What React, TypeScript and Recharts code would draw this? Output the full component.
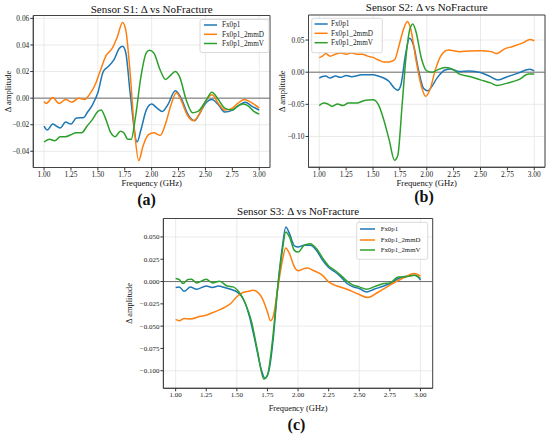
import {
  CartesianGrid,
  Line,
  LineChart,
  ReferenceArea,
  ReferenceLine,
  XAxis,
  YAxis,
} from "recharts";

type Pt = [number, number];

const FREQ_TICKS = [1, 1.25, 1.5, 1.75, 2, 2.25, 2.5, 2.75, 3];
const SERIES_NAMES = ["Fx0p1", "Fx0p1_2mmD", "Fx0p1_2mmV"];
const SERIES_COLORS = ["#1f77b4", "#ff7f0e", "#2ca02c"];

// Sensor S1
const S1_FX0P1: Pt[] = [
  [1.0, -0.021], [1.03, -0.024], [1.08, -0.0195], [1.15, -0.0225], [1.2, -0.018],
  [1.25, -0.0195], [1.3, -0.015], [1.37, -0.0145], [1.4, -0.011], [1.45, -0.005],
  [1.5, 0.004], [1.55, 0.02], [1.6, 0.024], [1.65, 0.029], [1.7, 0.0375],
  [1.73, 0.039], [1.76, 0.034], [1.8, 0.004], [1.865, -0.033], [1.9, -0.024],
  [1.95, -0.009], [2.0, -0.0045], [2.05, -0.0075], [2.1, -0.01], [2.15, -0.005],
  [2.22, 0.0055], [2.28, -0.001], [2.33, -0.011], [2.4, -0.017], [2.45, -0.011],
  [2.5, -0.004], [2.56, -0.001], [2.62, -0.005], [2.68, -0.0105], [2.75, -0.009],
  [2.8, -0.006], [2.87, -0.003], [2.93, -0.006], [3.0, -0.009],
];
const S1_2MMD: Pt[] = [
  [1.0, -0.0025], [1.02, -0.004], [1.08, 0.0005], [1.14, -0.004], [1.2, -0.001],
  [1.26, -0.003], [1.32, 0.0], [1.38, -0.001], [1.42, 0.0025], [1.48, 0.011],
  [1.52, 0.02], [1.58, 0.0325], [1.63, 0.037], [1.68, 0.046], [1.73, 0.057],
  [1.76, 0.051], [1.8, 0.019], [1.84, -0.024], [1.88, -0.047], [1.92, -0.036],
  [1.97, -0.0275], [2.02, -0.026], [2.08, -0.028], [2.13, -0.019], [2.18, -0.005],
  [2.23, 0.004], [2.27, -0.001], [2.33, -0.0125], [2.39, -0.017], [2.45, -0.011],
  [2.5, -0.0025], [2.56, 0.0025], [2.62, -0.004], [2.68, -0.009], [2.75, -0.0075],
  [2.8, -0.004], [2.86, -0.001], [2.92, -0.003], [3.0, -0.0075],
];
const S1_2MMV: Pt[] = [
  [1.0, -0.033], [1.05, -0.031], [1.1, -0.032], [1.15, -0.029], [1.2, -0.029],
  [1.25, -0.0275], [1.3, -0.026], [1.35, -0.026], [1.4, -0.021], [1.45, -0.016],
  [1.5, -0.01], [1.53, -0.009], [1.57, -0.015], [1.62, -0.026], [1.66, -0.029],
  [1.71, -0.025], [1.74, -0.026], [1.78, -0.031], [1.81, -0.031], [1.85, -0.014],
  [1.9, 0.016], [1.95, 0.034], [1.98, 0.036], [2.02, 0.034], [2.08, 0.021],
  [2.13, 0.014], [2.18, 0.0175], [2.22, 0.02], [2.26, 0.016], [2.32, -0.001],
  [2.38, -0.011], [2.43, -0.01], [2.5, -0.0025], [2.56, 0.0045], [2.62, -0.001],
  [2.68, -0.0075], [2.75, -0.009], [2.8, -0.006], [2.85, -0.0045], [2.9, -0.006],
  [2.95, -0.01], [3.0, -0.012],
];

// Sensor S2
const S2_FX0P1: Pt[] = [
  [1.0, -0.0093], [1.03, -0.0067], [1.06, -0.006], [1.1, -0.009], [1.15, -0.006],
  [1.2, -0.008], [1.25, -0.005], [1.3, -0.007], [1.4, -0.004], [1.5, -0.004],
  [1.55, -0.006], [1.6, -0.009], [1.65, -0.0145], [1.7, -0.025], [1.73, -0.028],
  [1.76, -0.0195], [1.8, 0.025], [1.84, 0.053], [1.88, 0.04], [1.92, 0.006],
  [1.97, -0.025], [2.01, -0.029], [2.04, -0.024], [2.1, -0.008], [2.17, 0.0035],
  [2.22, 0.005], [2.3, 0.001], [2.4, 0.002], [2.5, -0.0005], [2.58, -0.006],
  [2.66, -0.012], [2.75, -0.007], [2.85, -0.0015], [2.96, 0.0046], [3.0, 0.002],
];
const S2_2MMD: Pt[] = [
  [1.0, 0.0227], [1.03, 0.025], [1.06, 0.029], [1.1, 0.025], [1.15, 0.028],
  [1.2, 0.03], [1.25, 0.028], [1.3, 0.03], [1.35, 0.028], [1.4, 0.028],
  [1.45, 0.025], [1.5, 0.023], [1.55, 0.019], [1.6, 0.016], [1.65, 0.016],
  [1.7, 0.019], [1.74, 0.04], [1.78, 0.065], [1.82, 0.079], [1.85, 0.068],
  [1.9, 0.019], [1.95, -0.022], [1.99, -0.0376], [2.03, -0.027], [2.08, 0.0036],
  [2.13, 0.025], [2.2, 0.0345], [2.3, 0.032], [2.4, 0.033], [2.5, 0.0335],
  [2.6, 0.032], [2.65, 0.029], [2.72, 0.036], [2.8, 0.04], [2.9, 0.046],
  [2.96, 0.051], [3.0, 0.049],
];
const S2_2MMV: Pt[] = [
  [1.0, -0.052], [1.04, -0.048], [1.08, -0.0495], [1.12, -0.053], [1.17, -0.0495],
  [1.22, -0.052], [1.27, -0.048], [1.35, -0.048], [1.42, -0.044], [1.5, -0.043],
  [1.55, -0.0505], [1.6, -0.074], [1.65, -0.105], [1.7, -0.137], [1.73, -0.13],
  [1.77, -0.053], [1.81, 0.029], [1.84, 0.065], [1.87, 0.075], [1.9, 0.063],
  [1.95, 0.0217], [2.0, 0.002], [2.05, 0.0], [2.1, 0.0036], [2.17, 0.0072],
  [2.25, 0.0036], [2.3, -0.0026], [2.4, -0.0067], [2.5, -0.012], [2.6, -0.017],
  [2.65, -0.0206], [2.75, -0.017], [2.85, -0.012], [2.95, -0.003], [3.0, -0.003],
];

// Sensor S3
const S3_FX0P1: Pt[] = [
  [1.0, -0.0067], [1.03, -0.006], [1.07, -0.011], [1.12, -0.006], [1.17, -0.0086],
  [1.25, -0.005], [1.3, -0.0067], [1.35, -0.005], [1.4, -0.0067], [1.45, -0.0086],
  [1.5, -0.0116], [1.55, -0.019], [1.6, -0.0377], [1.65, -0.0675], [1.7, -0.099],
  [1.73, -0.1086], [1.76, -0.101], [1.8, -0.06], [1.83, -0.0116], [1.87, 0.037],
  [1.9, 0.0612], [1.93, 0.0537], [1.97, 0.04], [2.0, 0.0388], [2.05, 0.0407],
  [2.1, 0.0407], [2.15, 0.035], [2.2, 0.024], [2.25, 0.0157], [2.3, 0.011],
  [2.35, 0.0052], [2.4, -0.0022], [2.45, -0.006], [2.5, -0.0078], [2.56, -0.0116],
  [2.62, -0.0086], [2.7, -0.005], [2.75, -0.0022], [2.82, 0.0034], [2.88, 0.006],
  [2.95, 0.007], [2.98, 0.0052], [3.0, 0.0015],
];
const S3_2MMD: Pt[] = [
  [1.0, -0.0425], [1.03, -0.044], [1.07, -0.0414], [1.12, -0.042], [1.2, -0.039],
  [1.25, -0.0377], [1.3, -0.035], [1.37, -0.031], [1.45, -0.0246], [1.5, -0.017],
  [1.55, -0.0123], [1.6, -0.0108], [1.63, -0.0097], [1.7, -0.017], [1.75, -0.034],
  [1.775, -0.044], [1.8, -0.0377], [1.83, -0.0116], [1.87, 0.022], [1.9, 0.0377],
  [1.93, 0.0313], [1.97, 0.0164], [2.0, 0.012], [2.05, 0.0146], [2.08, 0.0153],
  [2.12, 0.0127], [2.2, 0.007], [2.25, -0.0004], [2.3, -0.004], [2.4, -0.0086],
  [2.5, -0.0146], [2.57, -0.018], [2.65, -0.0123], [2.75, -0.004], [2.85, 0.0034],
  [2.95, 0.009], [3.0, 0.006],
];
const S3_2MMV: Pt[] = [
  [1.0, 0.0034], [1.03, 0.0022], [1.06, -0.0022], [1.1, 0.0022], [1.13, 0.0026],
  [1.17, -0.0015], [1.25, 0.0026], [1.3, -0.0015], [1.36, 0.0004], [1.42, -0.005],
  [1.47, -0.006], [1.52, -0.0123], [1.57, -0.0246], [1.62, -0.045], [1.67, -0.0787],
  [1.72, -0.1093], [1.75, -0.105], [1.79, -0.0675], [1.83, -0.0116], [1.87, 0.033],
  [1.9, 0.0556], [1.93, 0.05], [1.97, 0.035], [2.0, 0.033], [2.05, 0.0407],
  [2.1, 0.0425], [2.15, 0.037], [2.2, 0.0265], [2.25, 0.0175], [2.3, 0.0127],
  [2.35, 0.007], [2.4, 0.0004], [2.45, -0.004], [2.5, -0.006], [2.56, -0.0086],
  [2.62, -0.006], [2.7, -0.0022], [2.75, -0.0015], [2.82, 0.0052], [2.88, 0.0052],
  [2.95, 0.007], [3.0, 0.0034],
];

const S1_TICKS = [-0.04, -0.02, 0, 0.02, 0.04, 0.06];
const S2_TICKS = [-0.1, -0.05, 0, 0.05];
const S3_TICKS = [-0.1, -0.075, -0.05, -0.025, 0, 0.025, 0.05];

const FONT = "'Liberation Serif', 'DejaVu Serif', serif";
const X_DOMAIN: [number, number] = [0.9, 3.1];

const fmt = (v: number, d: number) => {
  const s = Math.abs(v).toFixed(d);
  return v < -1e-9 ? "\u2212" + s : s;
};

interface Frame {
  left: number;
  top: number;
  right: number;
  bottom: number;
}

interface PanelProps {
  x: number;
  y: number;
  w: number;
  h: number;
  frame: Frame;
  series: Pt[][];
  yDomain: [number, number];
  yTicks: number[];
  decimals: number;
  fontSize: number;
}

function Panel({ x, y, w, h, frame, series, yDomain, yTicks, decimals, fontSize }: PanelProps) {
  const tick = { fontSize, fill: "#222", fontFamily: FONT };
  return (
    <div style={{ position: "absolute", left: x, top: y }}>
      <LineChart
        width={w}
        height={h}
        margin={{ top: frame.top - y, right: x + w - frame.right, left: 0, bottom: 0 }}
      >
        <CartesianGrid stroke="#e4e4e4" strokeWidth={0.8} />
        <XAxis
          type="number"
          dataKey="f"
          domain={X_DOMAIN}
          ticks={FREQ_TICKS}
          allowDataOverflow
          height={y + h - frame.bottom}
          tickFormatter={(v: number) => v.toFixed(2)}
          tick={tick}
          tickSize={3}
          tickMargin={1}
          tickLine={{ stroke: "#333" }}
          axisLine={{ stroke: "#444" }}
        />
        <YAxis
          type="number"
          domain={yDomain}
          ticks={yTicks}
          allowDataOverflow
          width={frame.left - x}
          tickFormatter={(v: number) => fmt(v, decimals)}
          tick={tick}
          tickSize={3}
          tickMargin={1}
          tickLine={{ stroke: "#333" }}
          axisLine={{ stroke: "#444" }}
        />
        <ReferenceLine y={0} stroke="#6e6e6e" strokeWidth={1} />
        {series.map((pts, i) => (
          <Line
            key={SERIES_NAMES[i]}
            data={pts.map(([f, v]) => ({ f, v }))}
            dataKey="v"
            type="monotone"
            stroke={SERIES_COLORS[i]}
            strokeWidth={1.5}
            dot={false}
            isAnimationActive={false}
          />
        ))}
        <ReferenceArea
          x1={X_DOMAIN[0]}
          x2={X_DOMAIN[1]}
          y1={yDomain[0]}
          y2={yDomain[1]}
          fill="none"
          fillOpacity={0}
          stroke="#444"
          strokeWidth={1}
        />
      </LineChart>
    </div>
  );
}

interface LegendProps {
  x: number;
  y: number;
  w: number;
  h: number;
  rows: number[];
  lineX: [number, number];
  textX: number;
  fontSize: number;
}

function LegendBox({ x, y, w, h, rows, lineX, textX, fontSize }: LegendProps) {
  return (
    <g>
      <rect x={x} y={y} width={w} height={h} rx={2} fill="#fff" fillOpacity={0.85} stroke="#cfcfcf" strokeWidth={0.8} />
      {SERIES_NAMES.map((name, i) => (
        <g key={name}>
          <line x1={lineX[0]} x2={lineX[1]} y1={rows[i]} y2={rows[i]} stroke={SERIES_COLORS[i]} strokeWidth={1.5} />
          <text x={textX} y={rows[i] + fontSize * 0.33} fontSize={fontSize} fontFamily={FONT} fill="#222">
            {name}
          </text>
        </g>
      ))}
    </g>
  );
}

const FRAME_A: Frame = { left: 33.3, top: 15.5, right: 270, bottom: 167.5 };
const FRAME_B: Frame = { left: 308.5, top: 15, right: 545, bottom: 167.3 };
const FRAME_C: Frame = { left: 163.4, top: 218.5, right: 432.7, bottom: 388.3 };

export default function App() {
  const cx = (f: Frame) => (f.left + f.right) / 2;
  const cy = (f: Frame) => (f.top + f.bottom) / 2;
  return (
    <div style={{ position: "absolute", left: 0, top: 0, width: 550, height: 436, background: "#fff", overflow: "hidden" }}>
      <Panel
        x={0} y={0} w={273} h={184}
        frame={FRAME_A}
        series={[S1_FX0P1, S1_2MMD, S1_2MMV]}
        yDomain={[-0.0522, 0.0622]}
        yTicks={S1_TICKS}
        decimals={2}
        fontSize={7.4}
      />
      <Panel
        x={275} y={0} w={273} h={184}
        frame={FRAME_B}
        series={[S2_FX0P1, S2_2MMD, S2_2MMV]}
        yDomain={[-0.148, 0.089]}
        yTicks={S2_TICKS}
        decimals={2}
        fontSize={7.4}
      />
      <Panel
        x={128} y={205} w={308} h={406 - 205}
        frame={FRAME_C}
        series={[S3_FX0P1, S3_2MMD, S3_2MMV]}
        yDomain={[-0.1197, 0.0707]}
        yTicks={S3_TICKS}
        decimals={3}
        fontSize={7}
      />
      <svg width={550} height={436} style={{ position: "absolute", left: 0, top: 0, pointerEvents: "none" }}>
        <g fontFamily={FONT} fill="#111" textAnchor="middle">
          <text x={cx(FRAME_A)} y={12.5} fontSize={11}>Sensor S1: Δ vs NoFracture</text>
          <text x={cx(FRAME_B)} y={11} fontSize={11}>Sensor S2: Δ vs NoFracture</text>
          <text x={cx(FRAME_C)} y={215} fontSize={11}>Sensor S3: Δ vs NoFracture</text>

          <text x={cx(FRAME_A)} y={185.5} fontSize={8.6}>Frequency (GHz)</text>
          <text x={cx(FRAME_B)} y={185.5} fontSize={8.6}>Frequency (GHz)</text>
          <text x={cx(FRAME_C)} y={410.5} fontSize={8.4}>Frequency (GHz)</text>

          <text x={10.5} y={cy(FRAME_A)} fontSize={8.6} transform={`rotate(-90, 10.5, ${cy(FRAME_A)})`}>Δ amplitude</text>
          <text x={285.5} y={cy(FRAME_B)} fontSize={8.6} transform={`rotate(-90, 285.5, ${cy(FRAME_B)})`}>Δ amplitude</text>
          <text x={132.5} y={cy(FRAME_C)} fontSize={8.4} transform={`rotate(-90, 132.5, ${cy(FRAME_C)})`}>Δ amplitude</text>

          <text x={146.5} y={205} fontSize={16} fontWeight="bold">(a)</text>
          <text x={424} y={202} fontSize={16} fontWeight="bold">(b)</text>
          <text x={296.5} y={429.5} fontSize={16} fontWeight="bold">(c)</text>
        </g>
        <LegendBox x={200} y={19.5} w={69} h={33} rows={[25, 34.3, 43.5]} lineX={[204, 217]} textX={222} fontSize={7.2} />
        <LegendBox x={311.7} y={18.3} w={70.6} h={34.4} rows={[24, 33.3, 42.7]} lineX={[314.5, 327.7]} textX={331} fontSize={7.2} />
        <LegendBox x={356.7} y={222.3} w={71} h={37} rows={[229, 240, 250]} lineX={[360, 375]} textX={380.7} fontSize={6.8} />
      </svg>
    </div>
  );
}
